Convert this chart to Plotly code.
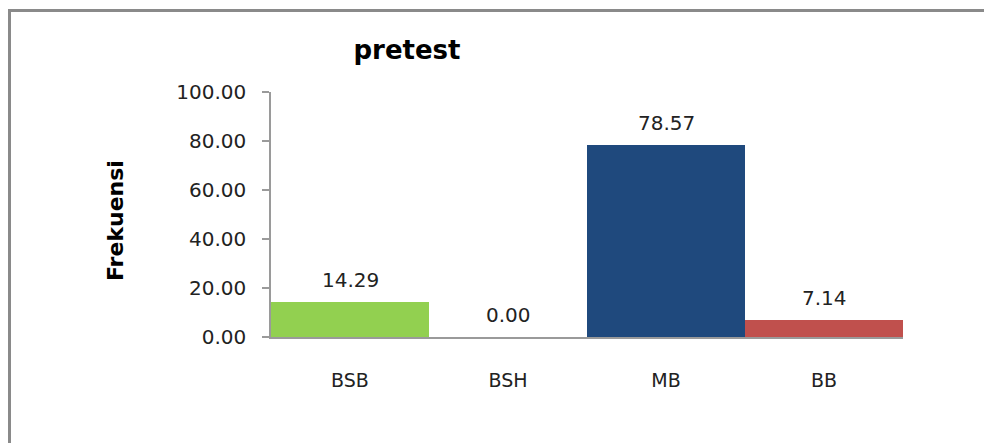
import plotly.graph_objects as go

categories = ["BSB", "BSH", "MB", "BB"]
values = [14.29, 0.00, 78.57, 7.14]
colors = ["#92D050", "#4F81BD", "#1F497D", "#C0504D"]
y_ticks = [0, 20, 40, 60, 80, 100]
y_tick_labels = ["0.00", "20.00", "40.00", "60.00", "80.00", "100.00"]

OFF = 8  # page body margin
W, H = 992 - OFF, 443 - OFF
L, R, T, B = 263, 89, 84, 106
pw, ph = W - L - R, H - T - B

def px(x):  # screen x -> paper
    return (x - OFF - L) / pw

def py(y):  # screen y -> paper
    return (H - B - (y - OFF)) / ph

FONT = "DejaVu Sans"

fig = go.Figure()
fig.add_trace(go.Bar(
    x=categories, y=values,
    marker=dict(color=colors, line=dict(width=0)),
    width=1.0,
))

for c, v in zip(categories, values):
    fig.add_annotation(x=c, y=v, text=f"{v:.2f}", showarrow=False,
                       xanchor="center", yanchor="bottom", yshift=8,
                       font=dict(family=FONT, size=20, color="#222"))

fig.add_annotation(xref="paper", yref="paper", x=px(115), y=py(221),
                   xanchor="center", yanchor="middle",
                   text="<b>Frekuensi</b>", textangle=-90, showarrow=False,
                   font=dict(family=FONT, size=22, color="#000"))

xl, xr, yt, yb = px(9.5), px(1020), py(10.5), py(480)
fig.add_shape(type="path", xref="paper", yref="paper",
              path=f"M {xl},{yb} L {xl},{yt} L {xr},{yt}",
              line=dict(color="#8a8a8a", width=3))

fig.update_layout(
    width=W, height=H,
    margin=dict(l=L, r=R, t=T, b=B),
    paper_bgcolor="white", plot_bgcolor="white",
    showlegend=False,
    bargap=0,
    title=dict(text="<b>pretest</b>", x=(407 - OFF) / W, xref="container", xanchor="center",
               y=1 - (50 - OFF) / H, yref="container", yanchor="middle",
               font=dict(family=FONT, size=26, color="#000")),
    xaxis=dict(showline=True, linecolor="#9a9a9a", linewidth=1.5, ticks="",
               showgrid=False, ticklabelstandoff=25,
               tickfont=dict(family=FONT, size=19, color="#222"),
               range=[-0.5, 3.5]),
    yaxis=dict(range=[0, 100], tickvals=y_ticks, ticktext=y_tick_labels,
               showline=True, linecolor="#9a9a9a", linewidth=1.5,
               ticks="outside", ticklen=7, tickcolor="#9a9a9a", tickwidth=1.5,
               showgrid=False, zeroline=False, ticklabelstandoff=12,
               tickfont=dict(family=FONT, size=20, color="#222")),
)

fig.write_html("out.html")
